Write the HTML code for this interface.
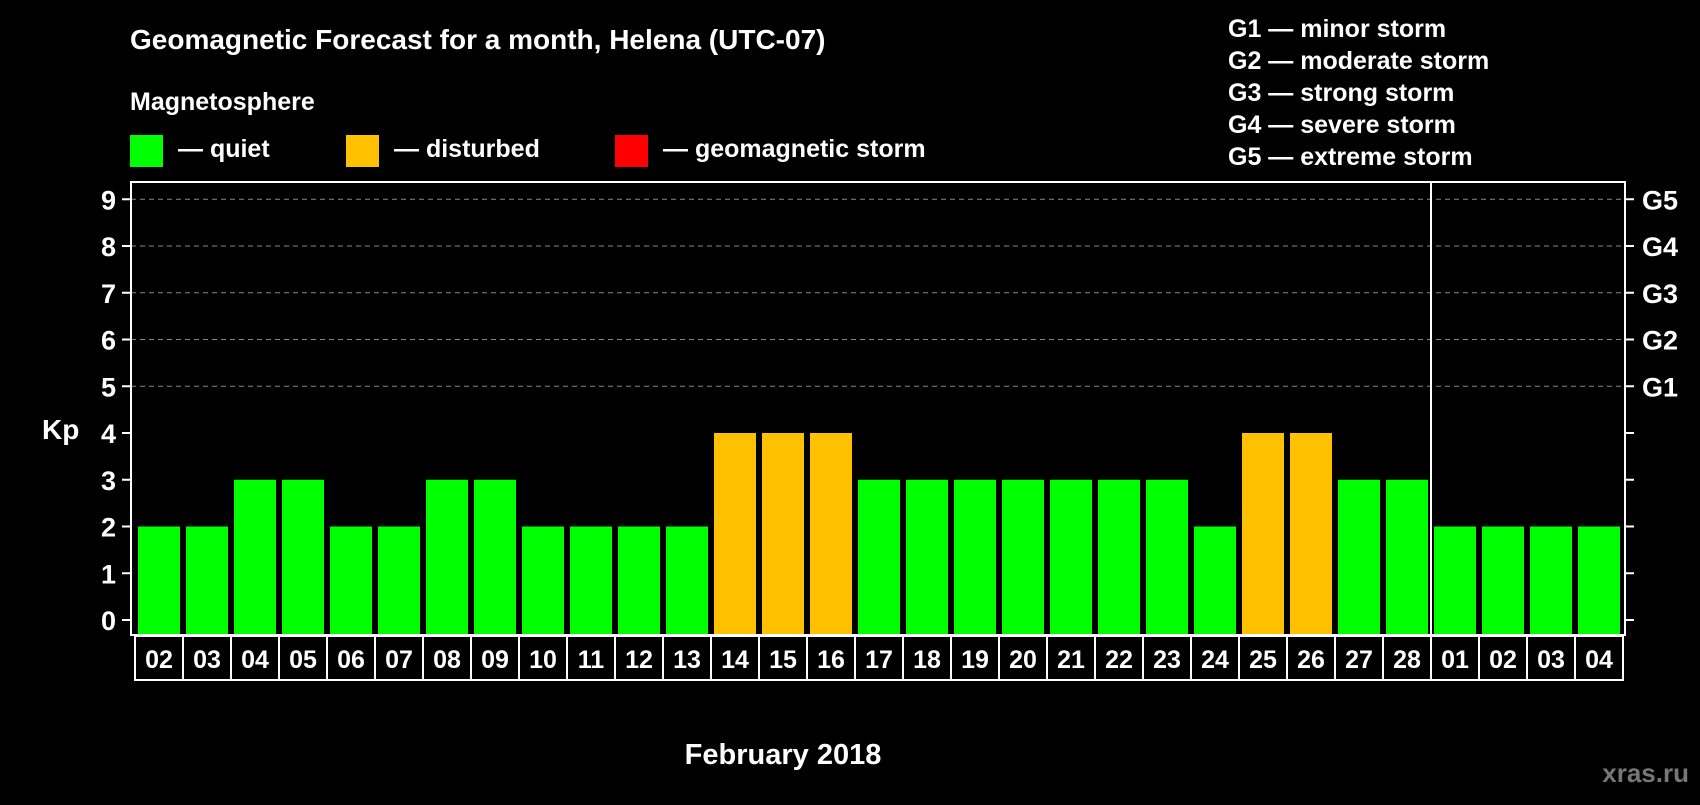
<!DOCTYPE html>
<html><head><meta charset="utf-8"><style>
body{margin:0;background:#000;width:1700px;height:800px;overflow:hidden;font-family:"Liberation Sans",Arial,sans-serif;}
svg text{font-family:"Liberation Sans",Arial,sans-serif;font-weight:bold;fill:#fff;}
</style></head><body>
<svg id="chart" width="1700" height="800" xmlns="http://www.w3.org/2000/svg">
<rect width="1700" height="800" fill="#000"/>
<text x="130" y="49" font-size="28">Geomagnetic Forecast for a month, Helena (UTC-07)</text>
<text x="130" y="110" font-size="25">Magnetosphere</text>
<g><rect x="130" y="135" width="33" height="32" fill="#00ff00"/><text x="178" y="157" font-size="25">— quiet</text></g>
<g><rect x="346" y="135" width="33" height="32" fill="#ffc000"/><text x="394" y="157" font-size="25">— disturbed</text></g>
<g><rect x="615" y="135" width="33" height="32" fill="#ff0000"/><text x="663" y="157" font-size="25">— geomagnetic storm</text></g>
<g font-size="25">
<text x="1228" y="37">G1 — minor storm</text>
<text x="1228" y="69">G2 — moderate storm</text>
<text x="1228" y="101">G3 — strong storm</text>
<text x="1228" y="133">G4 — severe storm</text>
<text x="1228" y="165">G5 — extreme storm</text>
</g>
<text x="42" y="439" font-size="28">Kp</text>
<text x="783" y="764" font-size="29" text-anchor="middle">February 2018</text>
<text x="1689" y="782" font-size="26" text-anchor="end" style="fill:#777">xras.ru</text>
<g id="grid"></g><g id="bars"></g><g id="axes"></g><g id="xlabels"></g>
</svg>
<script>
const dates=["02","03","04","05","06","07","08","09","10","11","12","13","14","15","16","17","18","19","20","21","22","23","24","25","26","27","28","01","02","03","04"];
const kp=[2,2,3,3,2,2,3,3,2,2,2,2,4,4,4,3,3,3,3,3,3,3,2,4,4,3,3,2,2,2,2];
const yTicks=[0,1,2,3,4,5,6,7,8,9];
const gLabels=["G1","G2","G3","G4","G5"];
const monthBreak=27;
const NS="http://www.w3.org/2000/svg";
const L=131,R=1625,T=182,B=635,x0=138,pitch=48,bw=42;
const y=v=>620-v*46.75;
const xb=i=>x0+i*pitch;
function mk(tag,attrs,parent){const e=document.createElementNS(NS,tag);for(const k in attrs)e.setAttribute(k,attrs[k]);parent.appendChild(e);return e;}
const grid=document.getElementById('grid'),bars=document.getElementById('bars'),axes=document.getElementById('axes'),xl=document.getElementById('xlabels');
yTicks.forEach(v=>{
  if(v>=5){const g=mk('line',{x1:L,x2:R,y1:y(v),y2:y(v),stroke:'#888','stroke-dasharray':'5,4','stroke-width':1},grid);
  
  }
  const t1=mk('line',{x1:122,x2:L,y1:y(v),y2:y(v),stroke:'#fff','stroke-width':2},axes);
  
  
  const t2=mk('line',{x1:R,x2:1634,y1:y(v),y2:y(v),stroke:'#fff','stroke-width':2},axes);
  
  
  const lb=mk('text',{x:116,y:y(v)+10,'font-size':27,'text-anchor':'end'},axes);lb.textContent=v;
  
  
});
gLabels.forEach((g,i)=>{const t=mk('text',{x:1642,y:y(5+i)+10,'font-size':27},axes);t.textContent=g;
  
  });
kp.forEach((v,i)=>{
  const c=v>=5?'#ff0000':(v>=4?'#ffc000':'#00ff00');
  const r=mk('rect',{x:xb(i),y:y(v),width:bw,height:634-y(v),fill:c},bars);
  
  
});
const fr=mk('rect',{x:L,y:T,width:R-L,height:B-T,fill:'none',stroke:'#fff','stroke-width':2},axes);


const sep=mk('line',{x1:xb(monthBreak)-3,x2:xb(monthBreak)-3,y1:T,y2:B,stroke:'#fff','stroke-width':2},axes);


dates.forEach((d,i)=>{
  const bx=mk('rect',{x:xb(i)-3,y:636,width:pitch,height:44,fill:'none',stroke:'#fff','stroke-width':2},xl);
  
  
  const t=mk('text',{x:xb(i)+bw/2,y:668,'font-size':25,'text-anchor':'middle'},xl);t.textContent=d;
  
  
});
</script>
</body></html>
